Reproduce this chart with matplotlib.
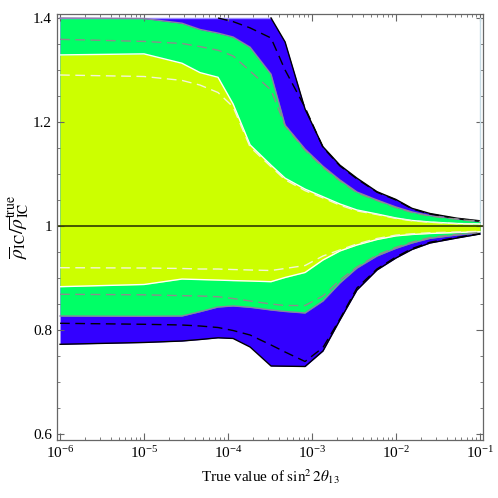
import numpy as np
import matplotlib.pyplot as plt
from matplotlib.ticker import MultipleLocator, LogLocator, FuncFormatter, NullFormatter

plt.rcParams['font.family'] = ['Liberation Serif', 'DejaVu Serif']
plt.rcParams['mathtext.fontset'] = 'stix'

nan = np.nan

# true value of sin^2 2theta13 (sample points)
s22t13 = [1e-6, 1e-5, 2.83e-5, 4.64e-5, 7.6e-5, 1.15e-4, 1.83e-4, 3.25e-4, 4.78e-4,
          8.26e-4, 1.35e-3, 2.15e-3, 3.43e-3, 5.94e-3, 1e-2, 1.55e-2, 2.54e-2, 5.32e-2, 1e-1]

# outer band (blue), upper / lower edge and dashed curve
blue_hi = [1.4, 1.4, 1.4, 1.4, 1.4, 1.4, 1.4, 1.4, 1.354, 1.225, 1.1525, 1.117, 1.092,
           1.066, 1.051, 1.034, 1.024, 1.015, 1.010]
blue_mid_hi = [nan, nan, nan, nan, 1.4, 1.393, 1.381, 1.3615, 1.30, 1.228, 1.151, 1.1155,
               1.0905, 1.065, 1.050, 1.033, 1.023, 1.014, 1.009]
blue_lo = [0.7725, 0.776, 0.7788, 0.7817, 0.785, 0.7837, 0.7673, 0.7308, 0.7304, 0.7298,
           0.7596, 0.8192, 0.8769, 0.9154, 0.9385, 0.9548, 0.9673, 0.9769, 0.9846]
blue_mid_lo = [0.8129, 0.811, 0.8096, 0.8077, 0.8048, 0.799, 0.7904, 0.7712, 0.7577, 0.7394,
               0.7663, 0.8212, 0.8808, 0.9174, 0.9405, 0.9565, 0.9688, 0.978, 0.9853]

# middle band (green)
green_hi = [1.4, 1.399, 1.390, 1.378, 1.371, 1.3635, 1.344, 1.292, 1.194, 1.148, 1.115,
            1.0885, 1.0654, 1.050, 1.0365, 1.027, 1.020, 1.0135, 1.0087]
green_mid_hi = [1.359, 1.355, 1.351, 1.345, 1.338, 1.327, 1.298, 1.2615, 1.193, 1.146, 1.113,
                1.087, 1.064, 1.049, 1.0355, 1.026, 1.019, 1.013, 1.008]
green_lo = [0.8269, 0.8263, 0.8269, 0.8352, 0.8442, 0.8462, 0.8437, 0.8385, 0.8356, 0.8327,
            0.8558, 0.8904, 0.9192, 0.9423, 0.9571, 0.9673, 0.9763, 0.9827, 0.9871]
green_mid_lo = [0.8687, 0.8677, 0.866, 0.8654, 0.864, 0.8606, 0.8558, 0.85, 0.8471, 0.8471,
                0.8654, 0.8962, 0.9212, 0.9443, 0.959, 0.969, 0.9778, 0.984, 0.988]

# inner band (yellow)
yellow_hi = [1.329, 1.331, 1.313, 1.295, 1.286, 1.2346, 1.156, 1.117, 1.092, 1.071, 1.0563,
             1.0423, 1.0308, 1.0231, 1.0154, 1.0106, 1.0077, 1.0048, 1.004]
yellow_mid_hi = [1.2904, 1.2875, 1.280, 1.271, 1.2567, 1.229, 1.152, 1.114, 1.089, 1.068,
                 1.054, 1.040, 1.029, 1.022, 1.0145, 1.010, 1.0072, 1.0045, 1.0037]
yellow_lo = [0.8833, 0.8875, 0.898, 0.897, 0.896, 0.895, 0.8942, 0.8929, 0.901, 0.9106, 0.9346,
             0.952, 0.9635, 0.974, 0.981, 0.9837, 0.9856, 0.9875, 0.989]
yellow_mid_lo = [0.9198, 0.9192, 0.9183, 0.9173, 0.9173, 0.9163, 0.9154, 0.9144, 0.9183, 0.924,
                 0.9423, 0.954, 0.9655, 0.976, 0.9825, 0.985, 0.987, 0.9885, 0.9898]

x = np.array(s22t13)

fig = plt.figure(figsize=(4.98, 4.98), dpi=100)
ax = fig.add_axes([0.1145, 0.1165, 0.8554, 0.8554])

ax.fill_between(x, blue_lo, blue_hi, color='#3300ff', lw=0)
ax.fill_between(x, green_lo, green_hi, color='#00ff66', lw=0)
ax.fill_between(x, yellow_lo, yellow_hi, color='#ccff00', lw=0)

# edges
ax.plot(x[:8], blue_hi[:8], color='#9c8cff', lw=1)
ax.plot(x[7:], blue_hi[7:], color='black', lw=1)
ax.plot(x, blue_lo, color='black', lw=1)
ax.plot(x, green_hi, color='#8c7fa6', lw=1)
ax.plot(x, green_lo, color='#8c7fa6', lw=1)
ax.plot(x, yellow_hi, color='white', lw=1)
ax.plot(x, yellow_lo, color='white', lw=1)

# dashed curves
dash = (0, (7, 4))
ax.plot(x, blue_mid_hi, color='black', lw=1, ls=dash)
ax.plot(x, blue_mid_lo, color='black', lw=1, ls=dash)
ax.plot(x, green_mid_hi, color='#8c8c8c', lw=1, ls=dash)
ax.plot(x, green_mid_lo, color='#8c8c8c', lw=1, ls=dash)
ax.plot(x, yellow_mid_hi, color='#f4f4d8', lw=1, ls=dash)
ax.plot(x, yellow_mid_lo, color='#f4f4d8', lw=1, ls=dash)

ax.axhline(1.0, color='#2e3a00', lw=1.2)
ax.plot([x[-1], x[-1]], [blue_hi[-1], 1.4], color='#c8dce6', lw=1)

ax.set_xscale('log')
ax.set_xlim(10 ** -6.036, 10 ** -0.964)
ax.set_ylim(0.5885, 1.4077)

ax.xaxis.set_major_locator(LogLocator(base=10, numticks=10))
ax.xaxis.set_minor_locator(LogLocator(base=10, subs=np.arange(2, 10), numticks=20))
ax.xaxis.set_minor_formatter(NullFormatter())
ax.yaxis.set_major_locator(MultipleLocator(0.2))
ax.yaxis.set_minor_locator(MultipleLocator(0.05))
ax.yaxis.set_major_formatter(FuncFormatter(lambda v, p: '%g' % round(v, 2)))

ax.tick_params(which='both', direction='in', top=True, right=True, color='#666666',
               labelsize=11)
ax.tick_params(which='major', length=5, width=0.8)
ax.tick_params(which='minor', length=2.5, width=0.6)
for sp in ax.spines.values():
    sp.set_color('#666666')
    sp.set_linewidth(0.9)

ax.set_xlabel(r'True value of $\sin^2 2\theta_{13}$', fontsize=11, labelpad=5)
ax.set_ylabel(r'$\overline{\rho}_{\rm IC}/\overline{\rho}_{\rm IC}^{\rm true}$', fontsize=14,
              labelpad=1)

fig.savefig('out.png', dpi=100)
